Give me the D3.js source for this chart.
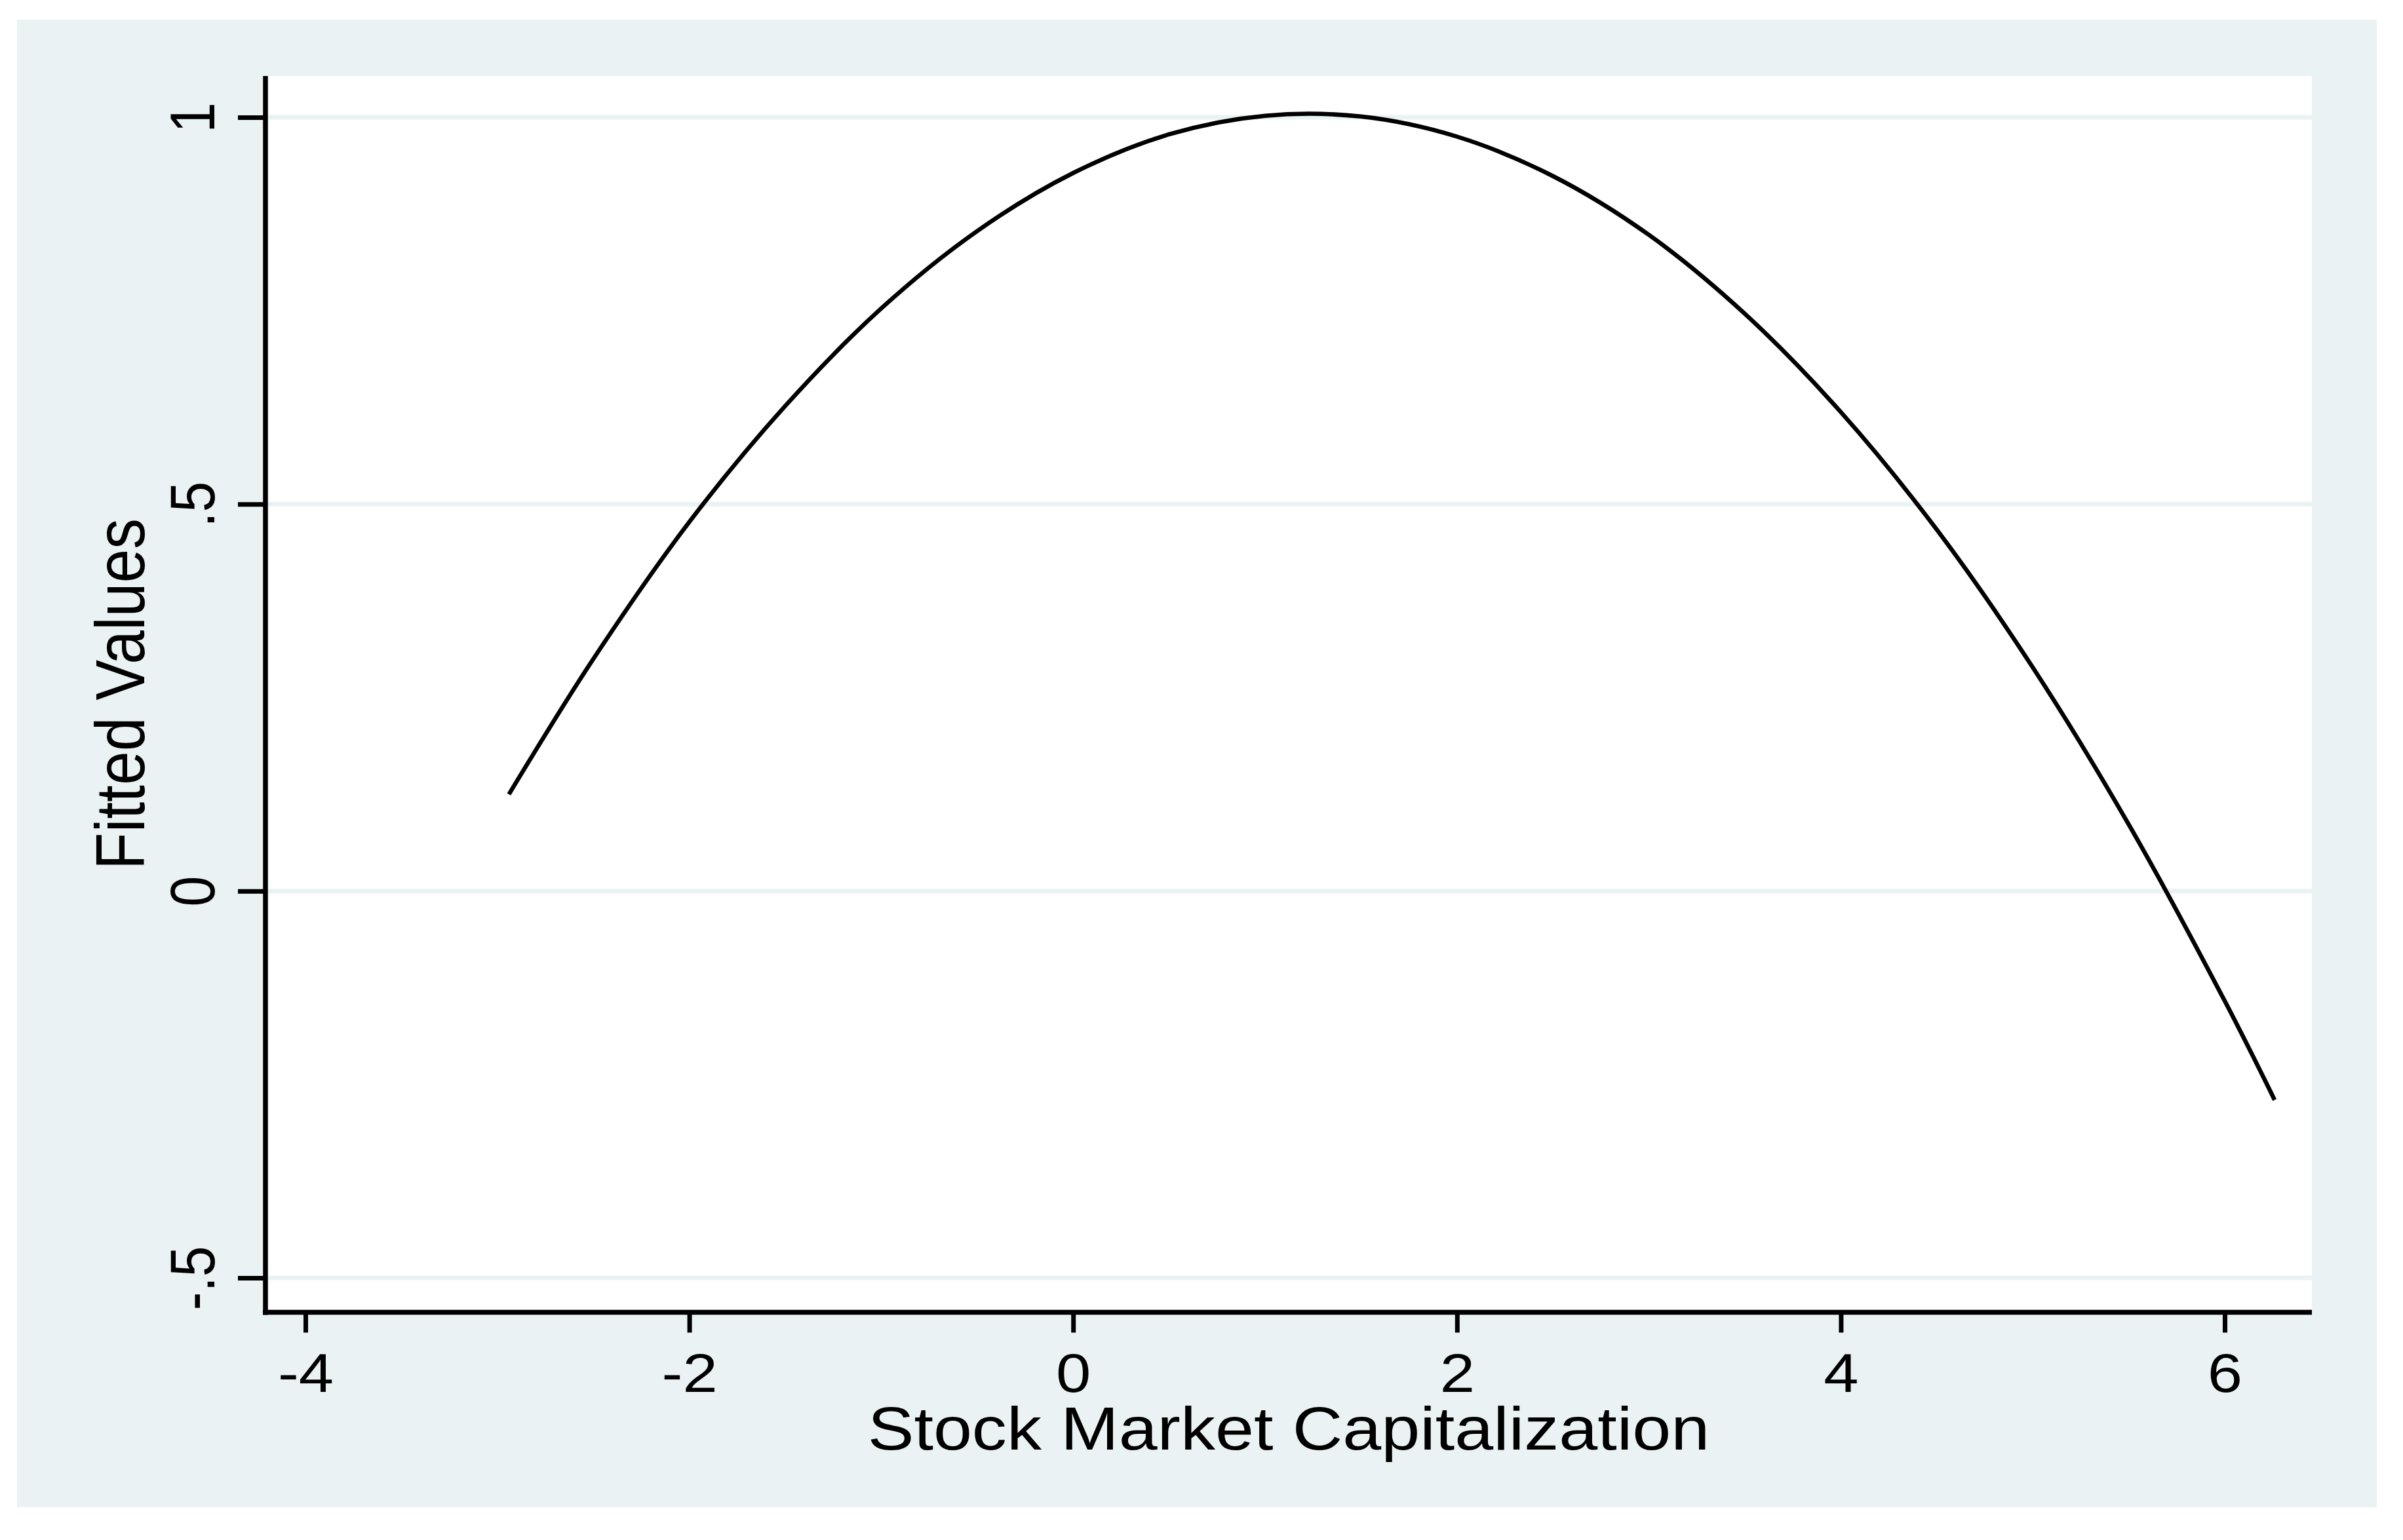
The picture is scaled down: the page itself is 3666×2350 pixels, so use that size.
<!DOCTYPE html>
<html>
<head>
<meta charset="utf-8">
<script src="https://cdn.jsdelivr.net/npm/d3@7"></script>
<style>
  html, body { margin: 0; padding: 0; background: #ffffff; }
  svg { display: block; }
  text { font-family: "Liberation Sans", Arial, sans-serif; fill: #000; }
</style>
</head>
<body>
<script>
// ---- data ----
const xTicks = [-4, -2, 0, 2, 4, 6];
const xTickLabels = ["-4", "-2", "0", "2", "4", "6"];
const yTicks = [-0.5, 0, 0.5, 1];
const yTickLabels = ["-.5", "0", ".5", "1"];
const marketCap = [-2.94, -2.5, -2, -1.5, -1, -0.5, 0, 0.5, 1, 1.5, 2, 2.5, 3, 3.5, 4, 4.5, 5, 5.5, 6, 6.26];
const fittedValues = [0.125, 0.300, 0.477, 0.627, 0.753, 0.853, 0.928, 0.978, 1.002, 1.001, 0.975, 0.924, 0.848, 0.746, 0.619, 0.467, 0.289, 0.086, -0.142, -0.270];
const xTitle = "Stock Market Capitalization";
const yTitle = "Fitted Values";

// ---- layout ----
const W = 3666, H = 2350;
const bg = "#eaf2f3";
const plotL = 405, plotR = 3527, plotT = 116, plotB = 2002.5;
const sx = 1.14; // horizontal stretch of glyphs in the reference

const svg = d3.select("body").append("svg").attr("width", W).attr("height", H);
svg.append("rect").attr("x", 0).attr("y", 0).attr("width", W).attr("height", H).attr("fill", "#ffffff");
svg.append("rect").attr("x", 26).attr("y", 30).attr("width", 3600).attr("height", 2270).attr("fill", bg);
svg.append("rect").attr("x", plotL).attr("y", plotT).attr("width", plotR - plotL).attr("height", plotB - plotT).attr("fill", "#ffffff");

const x = d3.scaleLinear().domain([-4, 6]).range([466, 3394]);
const y = d3.scaleLinear().domain([-0.5, 1]).range([1950, 179]);

// gridlines
svg.append("g").selectAll("line").data(yTicks).join("line")
  .attr("x1", plotL).attr("x2", plotR)
  .attr("y1", d => y(d)).attr("y2", d => y(d))
  .attr("stroke", bg).attr("stroke-width", 7);

// curve
const line = d3.line().x((d, i) => x(marketCap[i])).y(d => y(d)).curve(d3.curveCatmullRom);
svg.append("path").datum(fittedValues)
  .attr("d", line).attr("fill", "none").attr("stroke", "#000").attr("stroke-width", 6.5)
  .attr("stroke-linejoin", "round");

// x axis
const xAxis = svg.append("g").attr("transform", `translate(0,${plotB})`)
  .call(d3.axisBottom(x).tickValues(xTicks).tickSize(31).tickSizeOuter(0)
        .tickFormat((d, i) => xTickLabels[i]));
xAxis.select(".domain").remove();
xAxis.selectAll(".tick line").attr("stroke", "#000").attr("stroke-width", 7);
xAxis.selectAll(".tick text")
  .attr("y", 121.5).attr("dy", 0).attr("font-size", 84)
  .attr("text-anchor", "middle")
  .attr("transform", `scale(${sx},1)`)
  .style("font-family", "'Liberation Sans', Arial, sans-serif").attr("fill", "#000");
svg.append("line").attr("x1", plotL - 4).attr("x2", plotR).attr("y1", plotB).attr("y2", plotB)
  .attr("stroke", "#000").attr("stroke-width", 7.5);

// y axis
const yAxis = svg.append("g").attr("transform", `translate(${plotL},0)`)
  .call(d3.axisLeft(y).tickValues(yTicks).tickSize(42).tickSizeOuter(0)
        .tickFormat((d, i) => yTickLabels[i]));
yAxis.select(".domain").remove();
yAxis.selectAll(".tick line").attr("stroke", "#000").attr("stroke-width", 7);
yAxis.selectAll(".tick text")
  .attr("x", 0).attr("y", 0).attr("dy", 0).attr("font-size", 84)
  .attr("text-anchor", "middle")
  .attr("transform", `translate(-78,0) rotate(-90) scale(1,${sx})`)
  .style("font-family", "'Liberation Sans', Arial, sans-serif").attr("fill", "#000");
svg.append("line").attr("x1", plotL).attr("x2", plotL).attr("y1", plotT).attr("y2", plotB + 4)
  .attr("stroke", "#000").attr("stroke-width", 7.5);

// titles
svg.append("text")
  .attr("transform", `translate(${(plotL + plotR) / 2},2212) scale(${sx},1)`)
  .attr("text-anchor", "middle").attr("font-size", 93).text(xTitle);
svg.append("text")
  .attr("transform", `translate(220,${(plotT + plotB) / 2}) rotate(-90) scale(1,${sx})`)
  .attr("text-anchor", "middle").attr("font-size", 93).text(yTitle);
</script>
</body>
</html>
